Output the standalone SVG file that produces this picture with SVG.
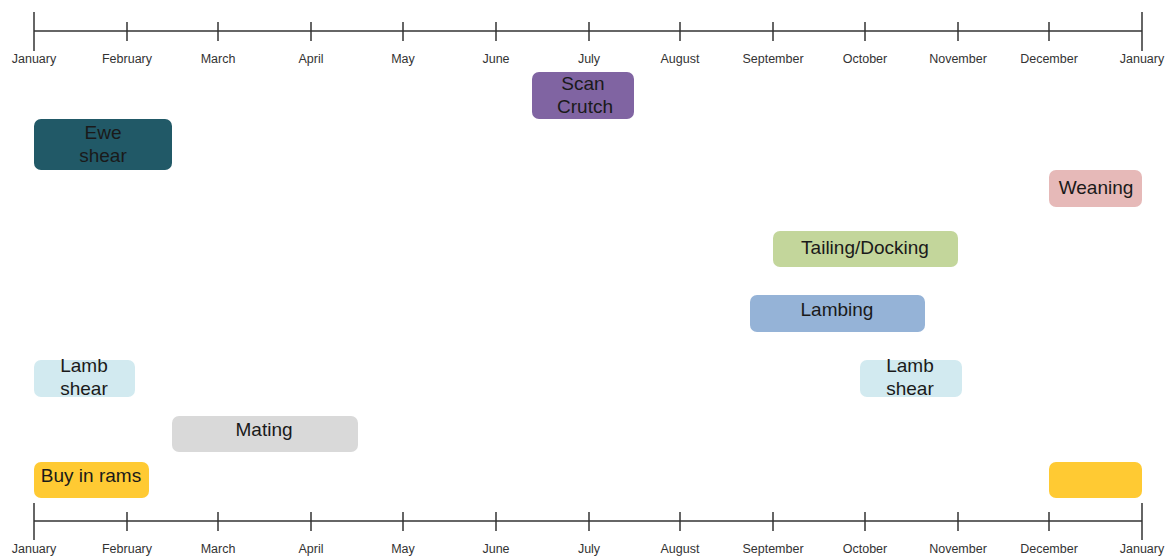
<svg xmlns="http://www.w3.org/2000/svg" width="1168" height="556" viewBox="0 0 1168 556">
<style>
.axis{stroke:#333;stroke-width:1.5;fill:none}
.m{font-family:"Liberation Sans",Arial,sans-serif;font-size:12.5px;fill:#333;text-anchor:middle}
.t{font-family:"Liberation Sans",Arial,sans-serif;font-size:19px;fill:#1a1a1a;text-anchor:middle}
.bar{stroke:none}
</style>
<rect width="1168" height="556" fill="#fff"/>
<g id="axis-top">
<line class="axis" x1="34" y1="31" x2="1142" y2="31"/>
<line class="axis" x1="34" y1="12" x2="34" y2="51"/>
<line class="axis" x1="1142" y1="12" x2="1142" y2="51"/>
<g class="axis">
<line x1="127" y1="22" x2="127" y2="41"/><line x1="218" y1="22" x2="218" y2="41"/><line x1="311" y1="22" x2="311" y2="41"/><line x1="403" y1="22" x2="403" y2="41"/><line x1="496" y1="22" x2="496" y2="41"/><line x1="589" y1="22" x2="589" y2="41"/><line x1="680" y1="22" x2="680" y2="41"/><line x1="773" y1="22" x2="773" y2="41"/><line x1="865" y1="22" x2="865" y2="41"/><line x1="958" y1="22" x2="958" y2="41"/><line x1="1049" y1="22" x2="1049" y2="41"/>
</g>
<text class="m" x="34" y="63">January</text><text class="m" x="127" y="63">February</text><text class="m" x="218" y="63">March</text><text class="m" x="311" y="63">April</text><text class="m" x="403" y="63">May</text><text class="m" x="496" y="63">June</text><text class="m" x="589" y="63">July</text><text class="m" x="680" y="63">August</text><text class="m" x="773" y="63">September</text><text class="m" x="865" y="63">October</text><text class="m" x="958" y="63">November</text><text class="m" x="1049" y="63">December</text><text class="m" x="1142" y="63">January</text>
</g>
<g id="axis-bottom">
<line class="axis" x1="34" y1="521" x2="1142" y2="521"/>
<line class="axis" x1="34" y1="503" x2="34" y2="540"/>
<line class="axis" x1="1142" y1="503" x2="1142" y2="540"/>
<g class="axis">
<line x1="127" y1="512" x2="127" y2="531"/><line x1="218" y1="512" x2="218" y2="531"/><line x1="311" y1="512" x2="311" y2="531"/><line x1="403" y1="512" x2="403" y2="531"/><line x1="496" y1="512" x2="496" y2="531"/><line x1="589" y1="512" x2="589" y2="531"/><line x1="680" y1="512" x2="680" y2="531"/><line x1="773" y1="512" x2="773" y2="531"/><line x1="865" y1="512" x2="865" y2="531"/><line x1="958" y1="512" x2="958" y2="531"/><line x1="1049" y1="512" x2="1049" y2="531"/>
</g>
<text class="m" x="34" y="553">January</text><text class="m" x="127" y="553">February</text><text class="m" x="218" y="553">March</text><text class="m" x="311" y="553">April</text><text class="m" x="403" y="553">May</text><text class="m" x="496" y="553">June</text><text class="m" x="589" y="553">July</text><text class="m" x="680" y="553">August</text><text class="m" x="773" y="553">September</text><text class="m" x="865" y="553">October</text><text class="m" x="958" y="553">November</text><text class="m" x="1049" y="553">December</text><text class="m" x="1142" y="553">January</text>
</g>
<g id="scan-crutch"><rect class="bar" x="532" y="72" width="102" height="47" rx="7" fill="#8064A2"/><text class="t" x="583" y="90">Scan</text><text class="t" x="585" y="113">Crutch</text></g>
<g id="ewe-shear"><rect class="bar" x="34" y="119" width="138" height="51" rx="7" fill="#215967"/><text class="t" x="103" y="139">Ewe</text><text class="t" x="103" y="162">shear</text></g>
<g id="weaning"><rect class="bar" x="1049" y="170" width="93" height="37" rx="7" fill="#E6B9B8"/><text class="t" x="1096" y="194">Weaning</text></g>
<g id="tailing-docking"><rect class="bar" x="773" y="231" width="185" height="36" rx="7" fill="#C3D69B"/><text class="t" x="865" y="254">Tailing/Docking</text></g>
<g id="lambing"><rect class="bar" x="750" y="295" width="175" height="37" rx="7" fill="#95B3D7"/><text class="t" x="837" y="316">Lambing</text></g>
<g id="lamb-shear-1"><rect class="bar" x="34" y="360" width="101" height="37" rx="7" fill="#D2EAF0"/><text class="t" x="84" y="372">Lamb</text><text class="t" x="84" y="395">shear</text></g>
<g id="lamb-shear-2"><rect class="bar" x="860" y="360" width="102" height="37" rx="7" fill="#D2EAF0"/><text class="t" x="910" y="372">Lamb</text><text class="t" x="910" y="395">shear</text></g>
<g id="mating"><rect class="bar" x="172" y="416" width="186" height="36" rx="7" fill="#D9D9D9"/><text class="t" x="264" y="436">Mating</text></g>
<g id="buy-in-rams"><rect class="bar" x="34" y="462" width="115" height="36" rx="7" fill="#FFCA33"/><text class="t" x="91" y="482">Buy in rams</text></g>
<g id="buy-in-rams-2"><rect class="bar" x="1049" y="462" width="93" height="36" rx="7" fill="#FFCA33"/></g>
</svg>
